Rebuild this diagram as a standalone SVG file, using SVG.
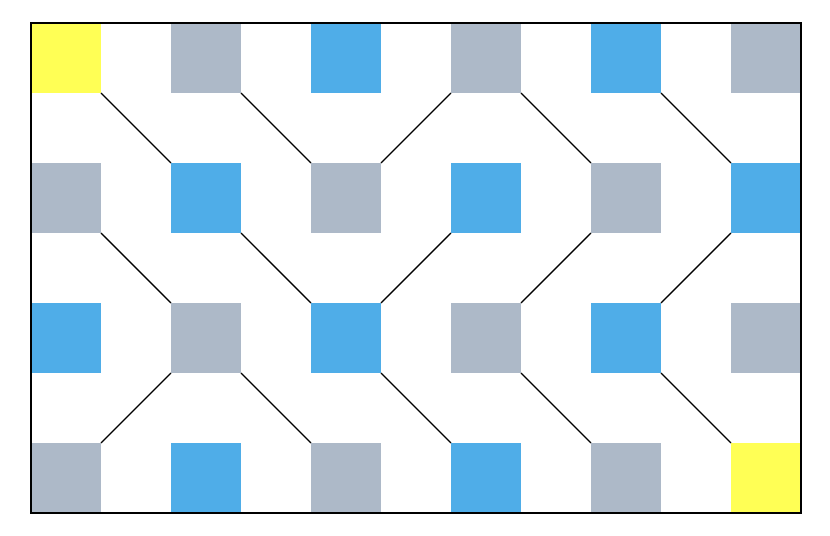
<svg xmlns="http://www.w3.org/2000/svg" width="830" height="536" viewBox="0 0 830 536">
<style>
.y{fill:#ffff55}
.g{fill:#adb9c8}
.b{fill:#4fade8}
#edges line{stroke:#000;stroke-width:1.5}
</style>
<rect width="830" height="536" fill="#fff"/>
<g id="n00"><rect class="y" x="31" y="23" width="70" height="70"/></g>
<g id="n10"><rect class="g" x="171" y="23" width="70" height="70"/></g>
<g id="n20"><rect class="b" x="311" y="23" width="70" height="70"/></g>
<g id="n30"><rect class="g" x="451" y="23" width="70" height="70"/></g>
<g id="n40"><rect class="b" x="591" y="23" width="70" height="70"/></g>
<g id="n50"><rect class="g" x="731" y="23" width="70" height="70"/></g>
<g id="n01"><rect class="g" x="31" y="163" width="70" height="70"/></g>
<g id="n11"><rect class="b" x="171" y="163" width="70" height="70"/></g>
<g id="n21"><rect class="g" x="311" y="163" width="70" height="70"/></g>
<g id="n31"><rect class="b" x="451" y="163" width="70" height="70"/></g>
<g id="n41"><rect class="g" x="591" y="163" width="70" height="70"/></g>
<g id="n51"><rect class="b" x="731" y="163" width="70" height="70"/></g>
<g id="n02"><rect class="b" x="31" y="303" width="70" height="70"/></g>
<g id="n12"><rect class="g" x="171" y="303" width="70" height="70"/></g>
<g id="n22"><rect class="b" x="311" y="303" width="70" height="70"/></g>
<g id="n32"><rect class="g" x="451" y="303" width="70" height="70"/></g>
<g id="n42"><rect class="b" x="591" y="303" width="70" height="70"/></g>
<g id="n52"><rect class="g" x="731" y="303" width="70" height="70"/></g>
<g id="n03"><rect class="g" x="31" y="443" width="70" height="70"/></g>
<g id="n13"><rect class="b" x="171" y="443" width="70" height="70"/></g>
<g id="n23"><rect class="g" x="311" y="443" width="70" height="70"/></g>
<g id="n33"><rect class="b" x="451" y="443" width="70" height="70"/></g>
<g id="n43"><rect class="g" x="591" y="443" width="70" height="70"/></g>
<g id="n53"><rect class="y" x="731" y="443" width="70" height="70"/></g>
<g id="edges">
<line x1="101" y1="93" x2="171" y2="163"/>
<line x1="241" y1="93" x2="311" y2="163"/>
<line x1="451" y1="93" x2="381" y2="163"/>
<line x1="521" y1="93" x2="591" y2="163"/>
<line x1="661" y1="93" x2="731" y2="163"/>
<line x1="101" y1="233" x2="171" y2="303"/>
<line x1="241" y1="233" x2="311" y2="303"/>
<line x1="451" y1="233" x2="381" y2="303"/>
<line x1="591" y1="233" x2="521" y2="303"/>
<line x1="731" y1="233" x2="661" y2="303"/>
<line x1="171" y1="373" x2="101" y2="443"/>
<line x1="241" y1="373" x2="311" y2="443"/>
<line x1="381" y1="373" x2="451" y2="443"/>
<line x1="521" y1="373" x2="591" y2="443"/>
<line x1="661" y1="373" x2="731" y2="443"/>
</g>
<rect x="31" y="23" width="770" height="490" fill="none" stroke="#000" stroke-width="2"/>
</svg>
